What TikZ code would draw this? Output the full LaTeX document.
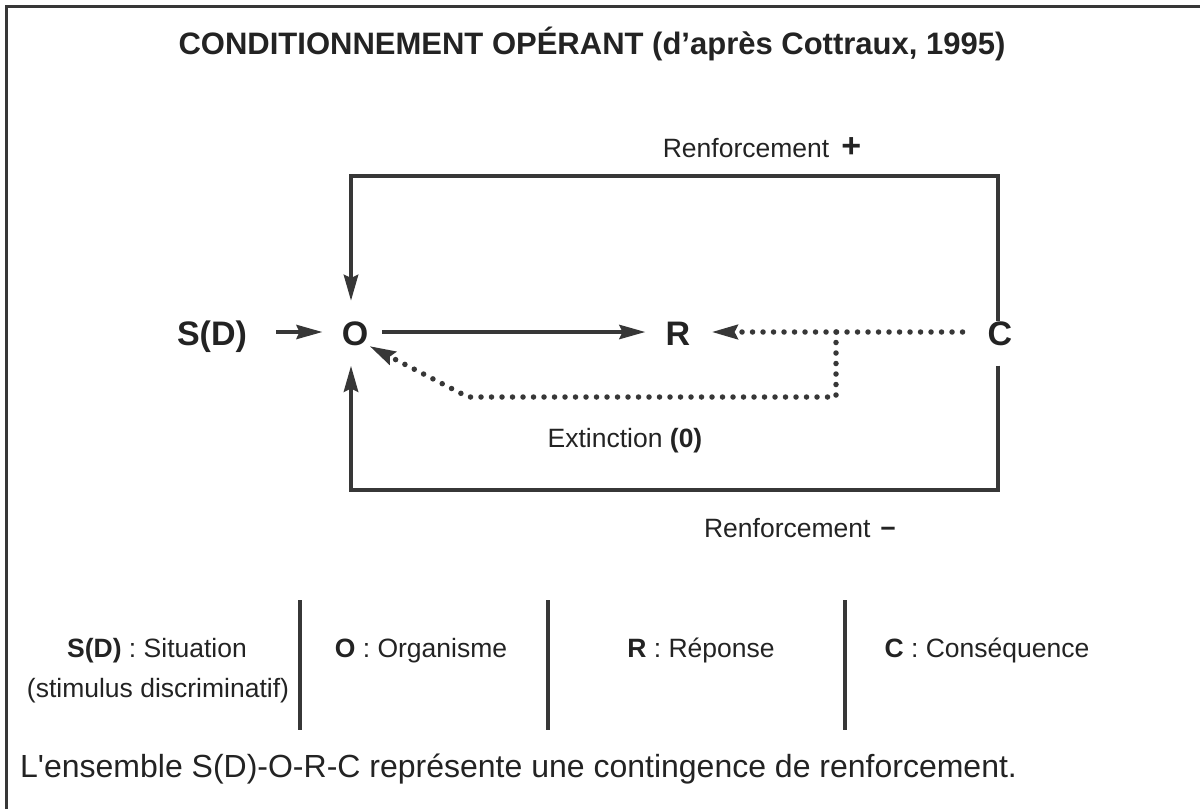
\documentclass[tikz,border=0pt]{standalone}
\usepackage{fontspec}
\setmainfont{Liberation Sans}
\newfontfamily\plainsans{Liberation Sans}[Ligatures=TeXOff]
\usetikzlibrary{arrows.meta}
\definecolor{ink}{RGB}{35,35,35}
\definecolor{lin}{RGB}{55,55,55}
\begin{document}
\begin{tikzpicture}[x=1pt,y=-1pt,
  big/.style={font=\fontsize{34}{34}\selectfont\bfseries, text=ink, inner sep=0pt, anchor=base},
  lbl/.style={font=\fontsize{26.5}{30}\selectfont, text=ink, inner sep=0pt, anchor=base},
  tip/.style={-{Stealth[length=26pt,width=14pt,inset=3pt]}},
  solidarrow/.style={draw=lin, line width=4.2pt, tip},
  dotline/.style={draw=lin, line width=5.5pt, line cap=round, dash pattern=on 0pt off 10.5pt},
  dotarrow/.style={dotline, tip},
  boxline/.style={draw=lin, line width=4.8pt},
  bar/.style={draw=lin, line width=3.2pt}]
\useasboundingbox (0,0) rectangle (1200,809);
% frame
\draw[draw=lin, line width=3pt] (6.5,809) -- (6.5,6.5) -- (1200,6.5);
% title
\node[font=\fontsize{31}{31}\selectfont\bfseries, text=ink, inner sep=0pt, anchor=base] (title) at (592,54) {CONDITIONNEMENT OPÉRANT (d’après Cottraux, 1995)};
% main nodes
\node[big] (SD) at (212,345) {S(D)};
\node[big] (O) at (355,345) {O};
\node[big] (R) at (678,345) {R};
\node[big] (C) at (1000,345) {C};
% corner coordinates
\coordinate (tl) at (351,176);
\coordinate (tr) at (998,176);
\coordinate (bl) at (351,490);
\coordinate (br) at (998,490);
\coordinate (xa) at (836,332);
\coordinate (xb) at (836,397);
\coordinate (xc) at (468,397);
% arrows
\draw[solidarrow, shorten <=29pt, shorten >=19pt] (SD.east |- 0,332) -- (O.west |- 0,332);
\draw[solidarrow, shorten <=14pt, shorten >=20pt] (O.east |- 0,332) -- (R.west |- 0,332);
\draw[dotarrow, shorten <=25pt, shorten >=21pt] (C.west |- 0,332) -- (R.east |- 0,332);
\draw[dotarrow, shorten >=1pt] (xa) -- (xb) -- (xc) -- (O.south east);
% loops
\draw[boxline, tip, shorten >=20pt] (tr |- C.north) -- (tr) -- (tl) -- (tl |- O.north);
\draw[boxline, tip, shorten >=20pt] (br |- C.south) ++(0,20) -- (br) -- (bl) -- (bl |- O.south);
% labels
\node[lbl] (rplus) at (762,157) {Renforcement\hspace{12pt}{\fontsize{34}{34}\selectfont\bfseries +}};
\node[lbl] (ext) at (625,447) {Extinction \textbf{(0)}};
\node[lbl] (rminus) at (800,537) {Renforcement\hspace{10pt}{\bfseries −}};
% legend
\draw[bar] (300,600) -- (300,730);
\draw[bar] (548,600) -- (548,730);
\draw[bar] (845,600) -- (845,730);
\node[lbl] (lsd) at (157,657) {\textbf{S(D)} : Situation};
\node[lbl] (lsd2) at (158,697) {(stimulus discriminatif)};
\node[lbl] (lo) at (421,657) {\textbf{O} : Organisme};
\node[lbl] (lr) at (701,657) {\textbf{R} : Réponse};
\node[lbl] (lc) at (987,657) {\textbf{C} : Conséquence};
\node[font=\fontsize{32}{32}\selectfont\plainsans, text=ink, inner sep=0pt, anchor=base west] (sent) at (20,777) {L'ensemble S(D)-O-R-C représente une contingence de renforcement.};
\end{tikzpicture}
\end{document}
